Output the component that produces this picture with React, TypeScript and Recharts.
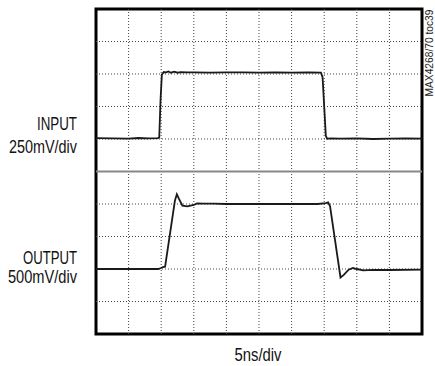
import React from 'react';
import { LineChart, Line, XAxis, YAxis, ReferenceLine, ReferenceArea } from 'recharts';

// time axis in divisions (5ns/div), 10 divisions; vertical in divisions, 10 divisions
const xDomain = [0, 10];
const yDomain = [0, 10];
const verticalGrid = [1, 2, 3, 4, 5, 6, 7, 8, 9];
const horizontalGrid = [1, 2, 3, 4, 6, 7, 8, 9];
const centerLevel = 5;

const inputT = [0, 0.5, 1.0, 1.3, 1.6, 1.9, 1.94, 1.98, 2.02, 2.08, 2.15, 2.22, 2.3, 2.4, 2.5, 2.6, 2.8, 3.0, 3.5, 4.0, 4.5, 5.0, 5.5, 6.0, 6.5, 6.9, 6.95, 7.0, 7.05, 7.09, 7.2, 7.5, 8.0, 8.5, 9.0, 9.5, 10];
const inputV = [6.03, 6.02, 6.01, 6.03, 6.02, 6.03, 6.05, 7.2, 7.98, 8.06, 8.05, 8.08, 8.04, 8.07, 8.04, 8.06, 8.05, 8.05, 8.04, 8.05, 8.05, 8.04, 8.05, 8.04, 8.05, 8.04, 7.9, 7.0, 6.1, 6.01, 6.02, 6.01, 6.02, 6.0, 6.01, 6.02, 6.01];

const outputT = [0, 1.0, 1.9, 2.0, 2.05, 2.12, 2.42, 2.48, 2.55, 2.65, 2.8, 3.0, 3.1, 3.3, 3.6, 4.0, 5.0, 6.0, 6.8, 7.05, 7.12, 7.18, 7.5, 7.6, 7.75, 7.88, 8.0, 8.2, 8.5, 9.0, 10];
const outputV = [2.0, 2.0, 2.0, 2.03, 2.06, 2.07, 4.1, 4.3, 4.15, 3.95, 3.93, 3.97, 4.02, 4.01, 4.01, 4.0, 4.0, 4.0, 4.0, 4.03, 4.05, 3.93, 1.74, 1.82, 1.98, 2.03, 2.0, 1.96, 1.97, 1.97, 1.98];

const inputData = inputT.map((t, i) => ({ t, v: inputV[i] }));
const outputData = outputT.map((t, i) => ({ t, v: outputV[i] }));

const labelFont = "'Liberation Sans', Arial, sans-serif";

export default function App() {
  return (
    <div style={{ position: 'absolute', left: 0, top: 0, width: 435, height: 366, background: '#fff' }}>
      <LineChart width={435} height={366} margin={{ top: 9, right: 13, bottom: 32, left: 96 }}>
        <XAxis type="number" dataKey="t" domain={xDomain} hide allowDataOverflow />
        <YAxis type="number" domain={yDomain} hide allowDataOverflow />
        {verticalGrid.map((x) => (
          <ReferenceLine key={'vx' + x} x={x} stroke="#444" strokeWidth={1} strokeDasharray="1 2" />
        ))}
        {horizontalGrid.map((y) => (
          <ReferenceLine key={'hy' + y} y={y} stroke="#444" strokeWidth={1} strokeDasharray="1 2" />
        ))}
        <ReferenceLine y={centerLevel} stroke="#888" strokeWidth={2} />
        <Line data={inputData} dataKey="v" type="linear" stroke="#1a1a1a" strokeWidth={1.8} dot={false} isAnimationActive={false} />
        <Line data={outputData} dataKey="v" type="linear" stroke="#1a1a1a" strokeWidth={1.8} dot={false} isAnimationActive={false} />
        <ReferenceArea x1={0} x2={10} y1={0} y2={10} fill="none" stroke="#000" strokeWidth={3} fillOpacity={0} />
        <text x={77} y={130} textAnchor="end" fontFamily={labelFont} fontSize={18} fill="#111" textLength={40} lengthAdjust="spacingAndGlyphs">INPUT</text>
        <text x={77} y={153} textAnchor="end" fontFamily={labelFont} fontSize={18} fill="#111" textLength={68} lengthAdjust="spacingAndGlyphs">250mV/div</text>
        <text x={77} y={264} textAnchor="end" fontFamily={labelFont} fontSize={18} fill="#111" textLength={54} lengthAdjust="spacingAndGlyphs">OUTPUT</text>
        <text x={77} y={283} textAnchor="end" fontFamily={labelFont} fontSize={18} fill="#111" textLength={69} lengthAdjust="spacingAndGlyphs">500mV/div</text>
        <text x={258} y={361} textAnchor="middle" fontFamily={labelFont} fontSize={18} fill="#111" textLength={47} lengthAdjust="spacingAndGlyphs">5ns/div</text>
        <text x={429} y={53} textAnchor="middle" dominantBaseline="central" transform="rotate(-90 429 53)" fontFamily={labelFont} fontSize={10} fill="#222" textLength={87} lengthAdjust="spacingAndGlyphs">MAX4268/70 toc39</text>
      </LineChart>
    </div>
  );
}
